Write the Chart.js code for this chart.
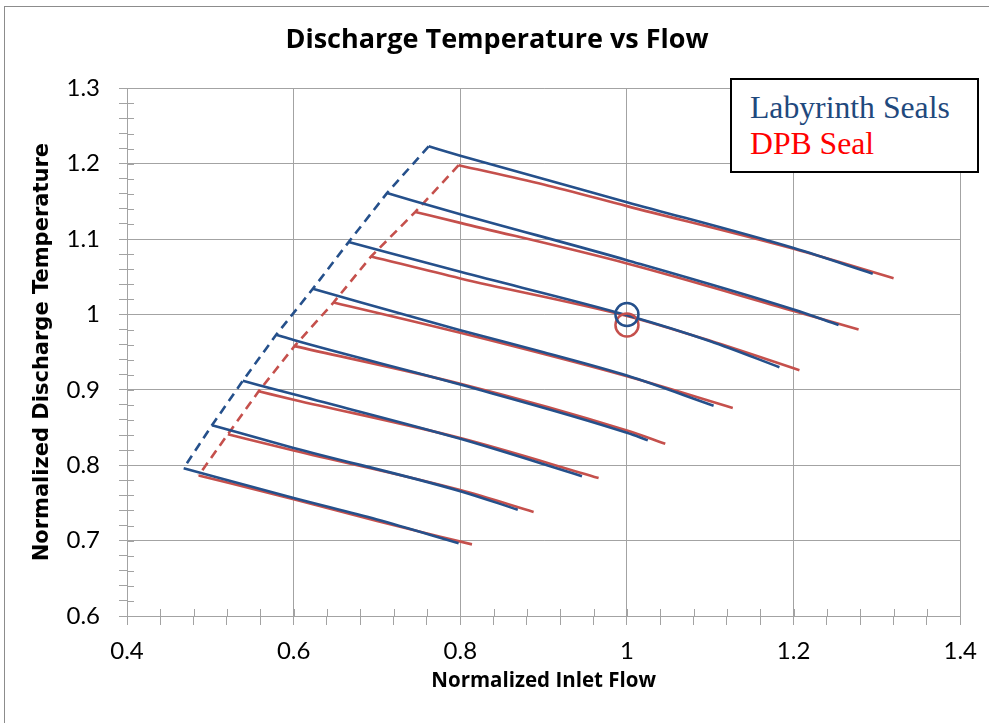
<!DOCTYPE html>
<html>
<head>
<meta charset="utf-8">
<script src="https://cdn.jsdelivr.net/npm/chart.js@4.4.1/dist/chart.umd.min.js"></script>
<style>
html,body{margin:0;padding:0;background:#fff;}
#wrap{position:relative;width:989px;height:723px;overflow:hidden;background:#fff;}
#frame{position:absolute;left:4px;top:6px;width:1100px;height:900px;border-top:1px solid #8c8c8c;border-left:1px solid #8c8c8c;}
#c{position:absolute;left:0;top:0;}
#legend{position:absolute;left:730px;top:78px;width:245px;height:91px;border:2px solid #000;background:#fff;
  font-family:"Liberation Serif","Times New Roman",serif;font-size:31.7px;line-height:1;}
#legend div{position:absolute;left:18px;white-space:nowrap;}
</style>
</head>
<body>
<div id="wrap">
  <div id="frame"></div>
  <canvas id="c" width="989" height="723"></canvas>
  <div id="legend">
    <div id="lg1" style="top:11.5px;color:#1F497D;">Labyrinth Seals</div>
    <div id="lg2" style="top:47.5px;color:#FF0000;">DPB Seal</div>
  </div>
</div>
<script>
// ---- data ----
const seriesNames = ['Labyrinth Seals', 'DPB Seal'];

// Labyrinth seals: one speed line per row (normalized inlet flow / normalized discharge temperature)
const labyrinthFlow = [
  [0.762, 0.800, 1.000, 1.200, 1.295],
  [0.712, 0.800, 1.000, 1.200, 1.254],
  [0.666, 0.800, 1.000, 1.100, 1.183],
  [0.623, 0.800, 0.900, 1.000, 1.104],
  [0.579, 0.600, 0.800, 1.000, 1.025],
  [0.539, 0.600, 0.800, 0.946],
  [0.502, 0.600, 0.800, 0.869],
  [0.468, 0.600, 0.700, 0.798]
];
const labyrinthTemp = [
  [1.223, 1.2105, 1.149, 1.088, 1.054],
  [1.161, 1.133, 1.072, 1.0065, 0.986],
  [1.096, 1.0565, 0.999, 0.9645, 0.930],
  [1.034, 0.979, 0.950, 0.919, 0.879],
  [0.973, 0.966, 0.907, 0.843, 0.833],
  [0.912, 0.894, 0.835, 0.7855],
  [0.853, 0.823, 0.7656, 0.741],
  [0.796, 0.7564, 0.728, 0.6966]
];

// DPB seal speed lines
const dpbFlow = [
  [0.798, 0.900, 1.000, 1.200, 1.320],
  [0.746, 0.800, 1.000, 1.200, 1.278],
  [0.693, 0.800, 1.000, 1.100, 1.207],
  [0.648, 0.800, 1.000, 1.127],
  [0.601, 0.800, 1.000, 1.046],
  [0.558, 0.600, 0.800, 0.966],
  [0.521, 0.600, 0.800, 0.888],
  [0.486, 0.600, 0.700, 0.814]
];
const dpbTemp = [
  [1.198, 1.1725, 1.1437, 1.087, 1.048],
  [1.136, 1.1215, 1.0676, 1.0047, 0.980],
  [1.077, 1.0478, 0.998, 0.965, 0.926],
  [1.016, 0.9757, 0.918, 0.876],
  [0.958, 0.908, 0.846, 0.8285],
  [0.898, 0.887, 0.836, 0.783],
  [0.841, 0.8195, 0.767, 0.738],
  [0.7865, 0.7548, 0.726, 0.695]
];

// design points (circles)
const designFlow = [1.000, 1.000];
const designTemp = [1.000, 0.986];

// axis tick labels
const xTickLabels = ['0.4', '0.6', '0.8', '1', '1.2', '1.4'];
const yTickLabels = ['0.6', '0.7', '0.8', '0.9', '1', '1.1', '1.2', '1.3'];

// ---- styling ----
const BLUE = '#25508B';
const RED = '#C5504C';
const GRID = '#a3a3a3';

function pts(xs, ys) { return xs.map((x, i) => ({x: x, y: ys[i]})); }

function labelFor(v, labels) {
  const hit = labels.find(l => Math.abs(parseFloat(l) - v) < 1e-6);
  return hit === undefined ? '' : hit;
}
function isMajor(v, labels) { return labelFor(v, labels) !== ''; }

const datasets = [];
// circles on top
datasets.push({
  label: seriesNames[0] + ' design point',
  data: [{x: designFlow[0], y: designTemp[0]}],
  showLine: false, pointRadius: 11.5, pointHoverRadius: 11.5, pointStyle: 'circle',
  pointBorderWidth: 2.5, borderColor: BLUE, pointBorderColor: BLUE, backgroundColor: 'rgba(0,0,0,0)', pointBackgroundColor: 'rgba(0,0,0,0)'
});
datasets.push({
  label: seriesNames[1] + ' design point',
  data: [{x: designFlow[1], y: designTemp[1]}],
  showLine: false, pointRadius: 11.5, pointHoverRadius: 11.5, pointStyle: 'circle',
  pointBorderWidth: 2.5, borderColor: RED, pointBorderColor: RED, backgroundColor: 'rgba(0,0,0,0)', pointBackgroundColor: 'rgba(0,0,0,0)'
});
labyrinthFlow.forEach((xs, i) => datasets.push({
  label: seriesNames[0] + ' ' + (i + 1), data: pts(xs, labyrinthTemp[i]),
  borderColor: BLUE, borderWidth: 2.6, pointRadius: 0, cubicInterpolationMode: 'monotone', fill: false
}));
datasets.push({
  label: seriesNames[0] + ' surge', data: pts(labyrinthFlow.map(a => a[0]), labyrinthTemp.map(a => a[0])),
  borderColor: BLUE, borderWidth: 2.6, borderDash: [9, 6], pointRadius: 0, fill: false
});
dpbFlow.forEach((xs, i) => datasets.push({
  label: seriesNames[1] + ' ' + (i + 1), data: pts(xs, dpbTemp[i]),
  borderColor: RED, borderWidth: 2.6, pointRadius: 0, cubicInterpolationMode: 'monotone', fill: false
}));
datasets.push({
  label: seriesNames[1] + ' surge', data: pts(dpbFlow.map(a => a[0]), dpbTemp.map(a => a[0])),
  borderColor: RED, borderWidth: 2.6, borderDash: [9, 6], pointRadius: 0, fill: false
});

// inward part of the tick marks (ticks cross the axis)
const innerTicks = {
  id: 'innerTicks',
  beforeDatasetsDraw(chart) {
    const {ctx, chartArea: a, scales: {x, y}} = chart;
    ctx.save();
    ctx.strokeStyle = GRID; ctx.lineWidth = 1;
    x.ticks.forEach(t => {
      const px = Math.round(x.getPixelForValue(t.value)) + 0.5;
      ctx.beginPath(); ctx.moveTo(px, a.bottom); ctx.lineTo(px, a.bottom - 7); ctx.stroke();
    });
    y.ticks.forEach(t => {
      const py = Math.round(y.getPixelForValue(t.value)) + 0.5;
      ctx.beginPath(); ctx.moveTo(a.left, py); ctx.lineTo(a.left + 7, py); ctx.stroke();
    });
    ctx.restore();
  }
};

new Chart(document.getElementById('c'), {
  type: 'line',
  data: {datasets: datasets},
  plugins: [innerTicks],
  options: {
    responsive: false,
    animation: false,
    events: [],
    layout: {padding: {left: 30, right: 25, top: 0, bottom: 0}},
    plugins: {
      legend: {display: false},
      tooltip: {enabled: false},
      title: {
        display: true, text: 'Discharge Temperature vs Flow', color: '#000',
        font: {family: '"Open Sans"', size: 27, weight: 'bold'},
        padding: {top: 24, bottom: 31.9}
      }
    },
    scales: {
      x: {
        type: 'linear', min: 0.4, max: 1.4,
        afterFit(s) { s.height = 107; },
        ticks: {
          stepSize: 0.04, autoSkip: false, maxRotation: 0, maxTicksLimit: 100,
          color: '#000', font: {family: 'Lato', size: 24}, padding: 12,
          callback: v => labelFor(v, xTickLabels)
        },
        grid: {
          color: c => (c.tick && isMajor(c.tick.value, xTickLabels)) ? GRID : 'rgba(0,0,0,0)',
          tickColor: GRID, tickLength: 9, lineWidth: 1
        },
        border: {color: GRID, width: 1},
        title: {
          display: true, text: 'Normalized Inlet Flow', color: '#000',
          font: {family: '"Open Sans"', size: 20.5, weight: 'bold'}, padding: {top: 0, bottom: 30}
        }
      },
      y: {
        type: 'linear', min: 0.6, max: 1.3,
        afterFit(s) { s.width = 97; },
        ticks: {
          stepSize: 0.02, autoSkip: false, maxTicksLimit: 100,
          color: '#000', font: {family: 'Lato', size: 24}, padding: 19,
          callback: v => labelFor(v, yTickLabels)
        },
        grid: {
          color: c => (c.tick && isMajor(c.tick.value, yTickLabels)) ? GRID : 'rgba(0,0,0,0)',
          tickColor: GRID, tickLength: 8, lineWidth: 1
        },
        border: {color: GRID, width: 1},
        title: {
          display: true, text: 'Normalized Discharge Temperature', color: '#000',
          font: {family: '"DejaVu Sans"', size: 21, weight: 'bold'}, padding: {top: 0, bottom: 0}
        }
      }
    }
  }
});
</script>
</body>
</html>
